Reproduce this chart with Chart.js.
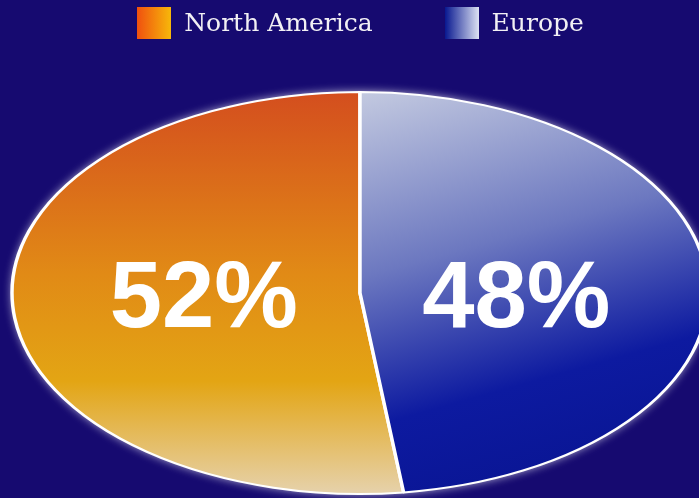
<!DOCTYPE html>
<html>
<head>
<meta charset="utf-8">
<script src="https://cdn.jsdelivr.net/npm/chart.js@4/dist/chart.umd.min.js"></script>
<style>
  html, body { margin: 0; padding: 0; background: #160a70; }
  #wrap { position: relative; width: 699px; height: 498px; }
  #legend {
    position: absolute; top: 7px; left: 0; width: 699px; padding-left: 22px;
    box-sizing: border-box; display: flex; justify-content: center; gap: 72px;
    font: 25px 'DejaVu Serif', serif; color: #f2f0f4; line-height: 32px;
  }
  #legend .item { display: flex; align-items: center; gap: 13px; }
  #legend .box { width: 34px; height: 32px; }
</style>
</head>
<body>
<div id="wrap">
  <div id="legend"></div>
  <canvas id="regionPie"></canvas>
</div>
<script>
// ----- Data -----
const regions = ["North America", "Europe"];
const shares = [52, 48];

// ----- Look -----
const BG = "#160a70";
const ELLIPSE_RY = 201;          // pie radius (vertical)
const STRETCH_X = 348 / 201;     // horizontal stretch -> ellipse
const legendGrad = [
  "linear-gradient(to right, #f0500f, #f7b80a)",
  "linear-gradient(to right, #081890, #dde2f3)"
];

// ----- HTML legend -----
const legendEl = document.getElementById("legend");
regions.forEach((r, i) => {
  const item = document.createElement("div");
  item.className = "item";
  const box = document.createElement("span");
  box.className = "box";
  box.style.background = legendGrad[i];
  const txt = document.createElement("span");
  txt.textContent = r;
  item.append(box, txt);
  legendEl.append(item);
});

// gradient fill per slice, in un-stretched pie coordinates
function sliceFill(ctx) {
  const area = ctx.chart.chartArea;
  if (!area) return ctx.dataIndex === 0 ? "#e08a18" : "#4050b0";
  const x = (area.left + area.right) / 2;
  const y = (area.top + area.bottom) / 2;
  const r = ELLIPSE_RY;
  const c = ctx.chart.ctx;
  let g;
  if (ctx.dataIndex === 0) {
    g = c.createLinearGradient(x, y - r, x, y + r);
    g.addColorStop(0, "#d44e1e");
    g.addColorStop(0.45, "#e18a16");
    g.addColorStop(0.72, "#e3a514");
    g.addColorStop(1, "#e6d2ac");
  } else {
    g = c.createLinearGradient(x - 0.1 * r, y - r, x + 0.75 * r, y + 0.75 * r);
    g.addColorStop(0, "#c8cee2");
    g.addColorStop(0.45, "#6c78c0");
    g.addColorStop(0.8, "#0d1aa0");
    g.addColorStop(1, "#0a1696");
  }
  return g;
}

// stretch the pie into an ellipse, add glow, write the labels
const ellipsePlugin = {
  id: "ellipse",
  beforeDatasetsDraw(chart) {
    const arc = chart.getDatasetMeta(0).data[0];
    if (!arc) return;
    const c = chart.ctx;
    c.save();
    c.translate(arc.x, arc.y);
    c.scale(STRETCH_X, 1);
    c.translate(-arc.x, -arc.y);
    // soft white halo behind the ellipse
    c.save();
    c.shadowColor = "rgba(255,255,255,0.75)";
    c.shadowBlur = 10;
    c.fillStyle = BG;
    c.beginPath();
    c.arc(arc.x, arc.y, arc.outerRadius, 0, Math.PI * 2);
    c.fill();
    c.restore();
  },
  afterDatasetsDraw(chart) {
    const c = chart.ctx;
    c.restore();
    const meta = chart.getDatasetMeta(0);
    c.save();
    c.fillStyle = "#ffffff";
    c.font = "bold 94px 'Liberation Sans', Arial, sans-serif";
    c.textAlign = "center";
    c.textBaseline = "middle";
    meta.data.forEach((arc, i) => {
      const mid = (arc.startAngle + arc.endAngle) / 2;
      const lx = arc.x + Math.cos(mid) * 0.45 * arc.outerRadius * STRETCH_X;
      const ly = arc.y + 8;
      c.fillText(shares[i] + "%", lx, ly);
    });
    c.restore();
  }
};

new Chart(document.getElementById("regionPie"), {
  type: "pie",
  data: {
    labels: regions,
    datasets: [{
      data: shares,
      backgroundColor: sliceFill,
      borderColor: "#ffffff",
      borderWidth: 2,
      radius: ELLIPSE_RY
    }]
  },
  options: {
    responsive: true,
    maintainAspectRatio: false,
    animation: false,
    // Europe runs clockwise from 12 o'clock, North America fills the rest
    rotation: shares[1] / 100 * 360,
    layout: { padding: { left: 21, right: 0, top: 88, bottom: 0 } },
    plugins: {
      tooltip: { enabled: false },
      legend: { display: false }
    }
  },
  plugins: [ellipsePlugin]
});
</script>
</body>
</html>
